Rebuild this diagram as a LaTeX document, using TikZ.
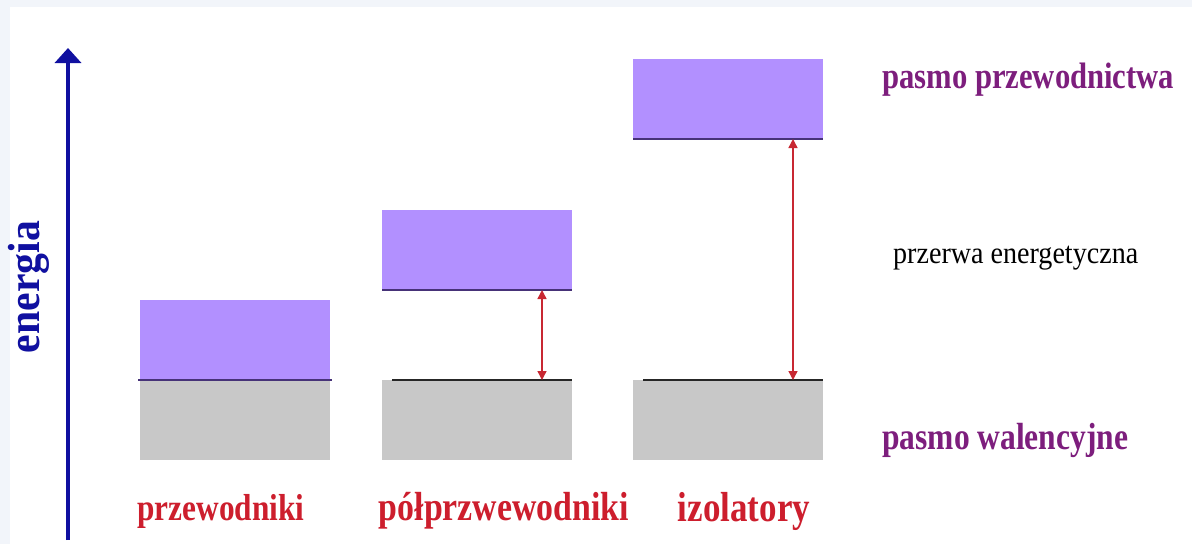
\documentclass[tikz,border=0pt]{standalone}
\usepackage{fontspec}
\setmainfont{Liberation Serif}
\usetikzlibrary{arrows.meta}
\definecolor{frame}{RGB}{242,245,250}
\definecolor{condband}{RGB}{178,144,255}
\definecolor{valband}{RGB}{200,200,200}
\definecolor{edgeline}{RGB}{70,50,120}
\definecolor{axisblue}{RGB}{16,16,160}
\definecolor{gapred}{RGB}{200,40,50}
\definecolor{bandlabel}{RGB}{125,30,125}
\definecolor{kindlabel}{RGB}{205,30,45}
% label text: fixed width, slightly tall letters
\newcommand{\lbl}[3]{\scalebox{1}[#2]{\resizebox{#1}{!}{#3}}}
\tikzset{
  band/.style={inner sep=0pt, outer sep=0pt, minimum width=190pt, minimum height=80pt, anchor=north west},
  cband/.style={band, fill=condband},
  vband/.style={band, fill=valband},
  edge/.style={line width=2.2pt, edgeline},
  topedge/.style={line width=2.4pt, black!85},
  gaparrow/.style={line width=1.4pt, gapred, {Triangle[width=9pt,length=9pt]}-{Triangle[width=9pt,length=9pt]}},
  kind/.style={text=kindlabel, inner sep=0pt},
  bandname/.style={text=bandlabel, inner sep=0pt, anchor=west},
}
\begin{document}
\begin{tikzpicture}[x=1pt,y=-1pt]
\useasboundingbox (0,0) rectangle (1192,544);
\fill[frame] (0,0) rectangle (1192,544);
\fill[white] (10,7) rectangle (1192,544);

% energy axis
\coordinate (axbot) at (68,540);
\coordinate (axtop) at (68,48);
\draw[axisblue, line width=4pt, -{Triangle[width=26pt,length=15pt]}] (axbot) -- (axtop);
\node[rotate=90, text=axisblue, inner sep=0pt] (energia) at (29,287)
  {\lbl{132pt}{1.08}{\textbf{energia}}};

% conductors
\node[cband] (c1) at (140,300) {};
\node[vband] (v1) at (140,380) {};
\draw[edge] ([xshift=-2pt]c1.south west) -- ([xshift=2pt]c1.south east);

% semiconductors
\node[cband] (c2) at (382,210) {};
\node[vband] (v2) at (382,380) {};
\draw[edge] (c2.south west) -- (c2.south east);
\draw[topedge] ([xshift=10pt]v2.north west) -- (v2.north east);
\draw[gaparrow] ([xshift=160pt]c2.south west) -- ([xshift=160pt]v2.north west);

% insulators
\node[cband] (c3) at (633,59) {};
\node[vband] (v3) at (633,380) {};
\draw[edge] (c3.south west) -- (c3.south east);
\draw[topedge] ([xshift=10pt]v3.north west) -- (v3.north east);
\draw[gaparrow] ([xshift=160pt]c3.south west) -- ([xshift=160pt]v3.north west);

% material names
\node[kind] (k1) at (221,511) {\lbl{167pt}{1.2}{\textbf{przewodniki}}};
\node[kind] (k2) at (504,511) {\lbl{250pt}{1.2}{\textbf{półprzwewodniki}}};
\node[kind] (k3) at (744,511) {\lbl{132pt}{1.2}{\textbf{izolatory}}};

% band names
\node[bandname] (lc) at (882,80) {\lbl{292pt}{1.2}{\textbf{pasmo przewodnictwa}}};
\node[bandname, text=black] (lg) at (893,258) {\lbl{245pt}{1.1}{przerwa energetyczna}};
\node[bandname] (lv) at (882,440) {\lbl{246pt}{1.2}{\textbf{pasmo walencyjne}}};
\end{tikzpicture}
\end{document}
